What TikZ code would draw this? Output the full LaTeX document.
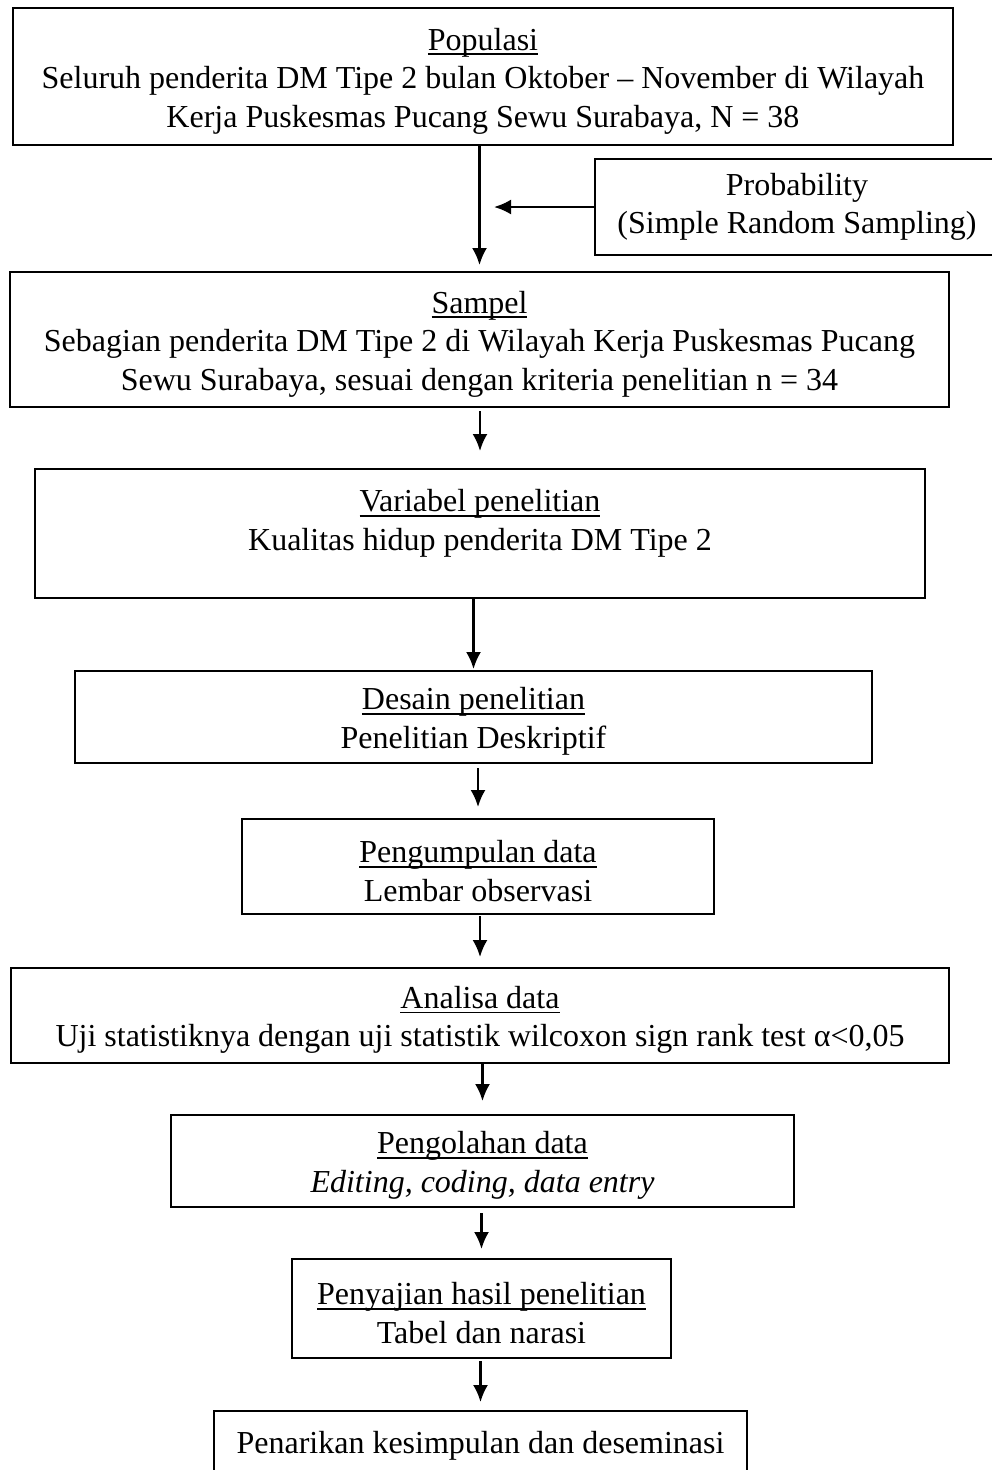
\documentclass[tikz,border=0pt]{standalone}
\usepackage{fontspec}
\setmainfont{Liberation Serif}
\usetikzlibrary{arrows.meta}
\newcommand{\garis}[1]{\setbox0=\hbox{#1}\leavevmode\rule{0pt}{31pt}\rlap{\rule[-5pt]{\wd0}{1.8pt}}\box0}
\tikzset{
  kotak/.style={draw, line width=2pt, align=center, inner sep=0pt,
    font=\fontsize{32}{38.5}\selectfont, execute at begin node={\rule{0pt}{30pt}}},
  teks/.style={align=center, inner sep=0pt, font=\fontsize{32}{38.5}\selectfont},
  panah/.style={->, >={Latex[length=17pt,width=15pt]}, line width=2.3pt},
}
\begin{document}
\begin{tikzpicture}[x=1pt,y=-1pt]
        \useasboundingbox (0,0) rectangle (992,1470);
        \fill[white] (0,0) rectangle (992,1470);
        \clip (0,0) rectangle (992,1470);
        %Kotak
        \node[kotak, minimum width=940pt, minimum height=137pt] (pop) at (483,76.5) {\garis{Populasi}\\Seluruh penderita DM Tipe 2 bulan Oktober -- November di Wilayah\\Kerja Puskesmas Pucang Sewu Surabaya, N = 38};
        \node[kotak, minimum width=404pt, minimum height=96pt] (prob) at (797,207) {Probability\\(Simple Random Sampling)};
        \node[kotak, minimum width=939pt, minimum height=135pt] (sam) at (479.5,339.5) {\garis{Sampel}\\Sebagian penderita DM Tipe 2 di Wilayah Kerja Puskesmas Pucang\\Sewu Surabaya, sesuai dengan kriteria penelitian n = 34};
        \node[kotak, minimum width=890pt, minimum height=129pt] (var) at (480,533.5) {};
        \node[teks] (vartxt) at (480,519) {\garis{Variabel penelitian}\\Kualitas hidup penderita DM Tipe 2};
        \node[kotak, minimum width=797pt, minimum height=92pt] (des) at (473.5,717) {\garis{Desain penelitian}\\Penelitian Deskriptif};
        \node[kotak, minimum width=472pt, minimum height=95pt] (kum) at (478,866.5) {\garis{Pengumpulan data}\\Lembar observasi};
        \node[kotak, minimum width=938pt, minimum height=95pt] (ana) at (480,1015.5) {\garis{Analisa data}\\Uji statistiknya dengan uji statistik wilcoxon sign rank test α<0,05};
        \node[kotak, minimum width=623pt, minimum height=92pt] (olah) at (482.5,1161) {\garis{Pengolahan data}\\\textit{Editing, coding, data entry}};
        \node[kotak, minimum width=379pt, minimum height=99pt] (saji) at (481.5,1308.5) {\garis{Penyajian hasil penelitian}\\Tabel dan narasi};
        \node[kotak, minimum width=533pt, minimum height=62pt] (tarik) at (480.5,1442) {Penarikan kesimpulan dan deseminasi};
        %Panah
        \coordinate (masuk) at (494,207);
        \draw[panah, shorten >=6pt] (pop.south -| sam.north) -- (sam.north);
        \draw[panah] (prob.west) -- (masuk);
        \draw[panah, shorten <=3pt, shorten >=17pt] (sam.south -| var.north) -- (var.north);
        \draw[panah, shorten >=1pt] (var.south -| des.north) -- (des.north);
        \draw[panah, shorten <=4pt, shorten >=11pt] (des.south -| kum.north) -- (kum.north);
        \draw[panah, shorten <=1pt, shorten >=10pt] (kum.south -| ana.north) -- (ana.north);
        \draw[panah, shorten >=13pt] (ana.south -| olah.north) -- (olah.north);
        \draw[panah, shorten <=5pt, shorten >=9pt] (olah.south -| saji.north) -- (saji.north);
        \draw[panah, shorten <=2pt, shorten >=8pt] (saji.south -| tarik.north) -- (tarik.north);
\end{tikzpicture}
\end{document}
